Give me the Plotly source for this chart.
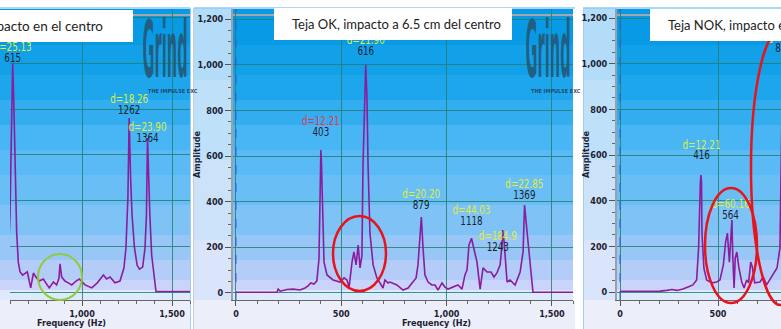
import plotly.graph_objects as go

W, H = 781, 329

# ---------------- data ----------------
# Panel 1 (cropped on the left)
p1_freq = [590, 600, 608, 615, 622, 630, 637, 646, 656, 670, 683, 696, 715, 730, 744, 763,
           785, 804, 818, 841, 859, 872, 878, 887, 905, 924, 943, 967, 985, 1017, 1054, 1085,
           1100, 1119, 1137, 1156, 1183, 1211, 1233, 1244, 1255, 1262, 1270, 1278, 1291, 1306,
           1319, 1337, 1350, 1358, 1364, 1370, 1377, 1387, 1398, 1411, 1600]
p1_amp = [150, 337, 700, 1000, 800, 450, 263, 131, 88, 74, 83, 88, 18, 83, 66, 48,
          57, 31, 18, 44, 31, 60, 123, 66, 48, 40, 31, 48, 57, 31, 18, 40,
          57, 74, 57, 66, 40, 48, 105, 192, 411, 761, 500, 337, 197, 118,
          100, 109, 192, 337, 674, 500, 337, 162, 88, 2, 2]
p1_peaks = [615, 1262, 1364]
p1_peak_text = ["615", "1262", "1364"]
p1_damp_text = ["d=25.13", "d=18.26", "d=23.90"]
p1_num_y = [1020, 792, 670]
p1_damp_y = [1068, 840, 718]

# Panel 2: Teja OK, impacto a 6.5 cm del centro
p2_freq = [0, 195, 200, 210, 242, 271, 304, 328, 342, 355, 370, 384, 394, 401, 403, 406, 413,
           418, 432, 461, 494, 513, 527, 537, 551, 560, 570, 580, 589, 598, 603, 610, 616, 622,
           627, 636, 651, 669, 683, 698, 707, 722, 731, 764, 793, 817, 836, 855, 864, 874, 880,
           888, 897, 912, 930, 945, 959, 978, 992, 1007, 1030, 1054, 1073, 1087, 1097, 1106,
           1118, 1130, 1144, 1159, 1173, 1192, 1211, 1225, 1239, 1254, 1263, 1266, 1273, 1287,
           1301, 1325, 1349, 1363, 1370, 1382, 1396, 1410, 1600]
p2_amp = [3, 3, 17, 8, 15, 17, 13, 22, 31, 44, 39, 53, 150, 560, 626, 560, 267,
          135, 79, 57, 48, 66, 57, 26, 136, 180, 123, 210, 110, 166, 560, 850, 1000, 850,
          560, 263, 123, 66, 44, 22, 57, 44, 48, 35, 13, 22, 44, 66, 123, 267, 333,
          197, 79, 48, 35, 35, 13, 44, 26, 17, 26, 35, 17, 79, 101, 210,
          240, 197, 136, 17, 110, 92, 92, 70, 88, 123, 210, 276, 223, 48,
          57, 35, 92, 180, 385, 267, 136, 3, 3]
p2_peaks = [403, 616, 879, 1118, 1243, 1369]
p2_peak_text = ["403", "616", "879", "1118", "1243", "1369"]
p2_damp_text = ["d=12.21", "d=21.90", "d=20.20", "d=44.03", "d=184.9", "d=22.85"]
p2_num_y = [701, 1056, 381, 311, 197, 425]
p2_damp_y = [749, 1104, 429, 359, 245, 473]

# Panel 3: Teja NOK, impacto en el centro (cropped on the right)
p3_freq = [0, 194, 204, 240, 265, 291, 321, 347, 372, 391, 401, 410, 413, 416, 418, 428, 442,
           469, 493, 510, 527, 539, 548, 558, 565, 571, 575, 582, 588, 596, 606, 621, 633, 646,
           656, 667, 675, 687, 714, 731, 748, 774, 801, 816, 830, 850]
p3_amp = [3, 3, 4, 7, 11, 7, 13, 22, 31, 53, 193, 480, 512, 480, 263, 105, 53,
          40, 44, 53, 118, 219, 258, 131, 263, 315, 166, 18, 149, 175, 110, 44, 18, 53,
          40, 131, 110, 40, 44, 66, 31, 66, 105, 193, 1000, 600]
p3_peaks = [416, 564, 806, 786]
p3_peak_text = ["416", "564", "8", ""]
p3_damp_text = ["d=12.21", "d=60.16", "", "d="]
p3_num_y = [596, 333, 1064, 1064]
p3_damp_y = [640, 381, 1104, 1104]

titles = ["Teja OK, impacto en el centro",
          "Teja OK, impacto a 6.5 cm del centro",
          "Teja NOK, impacto en el centro"]

# ---------------- helpers ----------------
def px(x):
    return x / W


def py(y):
    return 1 - y / H


LINE = "#8c1c9e"
YEL = "#dcef3a"
RED = "#e8364c"
DARK = "#18222e"
NARROW = "Liberation Sans Narrow, DejaVu Sans Condensed, Arial Narrow, sans-serif"
GRID = "rgba(34,128,112,0.85)"

fig = go.Figure()

panels = [
    (p1_freq, p1_amp, p1_peaks, p1_peak_text, p1_damp_text, p1_num_y, p1_damp_y,
     [YEL, YEL, YEL], "x", "y"),
    (p2_freq, p2_amp, p2_peaks, p2_peak_text, p2_damp_text, p2_num_y, p2_damp_y,
     [RED, YEL, YEL, YEL, YEL, YEL], "x2", "y2"),
    (p3_freq, p3_amp, p3_peaks, p3_peak_text, p3_damp_text, p3_num_y, p3_damp_y,
     [YEL, YEL, YEL, YEL], "x3", "y3"),
]

for (fr, am, pk, ptxt, dtxt, ny, dy, dcol, xa, ya) in panels:
    fig.add_trace(go.Scatter(x=fr, y=am, mode="lines", xaxis=xa, yaxis=ya,
                             line=dict(color=LINE, width=1.6), hoverinfo="skip",
                             showlegend=False))
    fig.add_trace(go.Scatter(x=list(pk) + list(pk), y=list(dy) + list(ny),
                             text=list(dtxt) + list(ptxt), mode="text",
                             xaxis=xa, yaxis=ya, cliponaxis=False, showlegend=False,
                             hoverinfo="skip",
                             textfont=dict(family=NARROW, size=12.5,
                                           color=list(dcol) + [DARK] * len(ptxt))))

tickfont = dict(family=NARROW, size=9, color="#1d2130", weight="bold")


def xaxis(dom, rng, show_labels=True):
    return dict(domain=dom, range=rng, dtick=500, tick0=0, tickformat=",d",
                showgrid=True, gridcolor=GRID, gridwidth=1, zeroline=False,
                ticks="outside", ticklen=5, tickcolor="#555", tickwidth=1,
                minor=dict(dtick=100, ticklen=3, tickcolor="#666", ticks="outside", showgrid=False),
                showline=True, linecolor="#666", linewidth=1,
                showticklabels=show_labels, tickfont=tickfont, fixedrange=True)


def yaxis(anchor, rng, show=True):
    d = dict(domain=[py(300), py(9)], range=rng, dtick=200, tick0=0, tickformat=",d",
             showgrid=True, gridcolor=GRID, gridwidth=1, zeroline=False,
             anchor=anchor, fixedrange=True, tickfont=tickfont)
    if show:
        d.update(ticks="outside", ticklen=6, tickcolor="#555",
                 minor=dict(dtick=50, ticklen=3, tickcolor="#666", ticks="outside", showgrid=False),
                 showline=True, linecolor="#9aa0a8", linewidth=2, showticklabels=True)
    else:
        d.update(ticks="", showticklabels=False, showline=False)
    return d


fig.update_layout(
    width=W, height=H, margin=dict(l=0, r=0, t=0, b=0),
    paper_bgcolor="white", plot_bgcolor="rgba(0,0,0,0)",
    showlegend=False,
    xaxis=xaxis([px(10), px(190)], [600, 1600]),
    yaxis=yaxis("x", [-35, 1238.5], show=False),
    xaxis2=xaxis([px(233), px(573)], [-14.2, 1600]),
    yaxis2=yaxis("x2", [-30.7, 1244]),
    xaxis3=xaxis([px(617), 1.0], [-15.3, 821.4]),
    yaxis3=yaxis("x3", [-35, 1239.6]),
)
fig.layout.xaxis.anchor = "y"
fig.layout.xaxis2.anchor = "y2"
fig.layout.xaxis3.anchor = "y3"

shapes = []


def rect(x0, y0, x1, y1, color, layer="below"):
    shapes.append(dict(type="rect", xref="paper", yref="paper",
                       x0=px(x0), x1=px(x1), y0=py(y1), y1=py(y0),
                       fillcolor=color, line=dict(width=0), layer=layer))


def hline(x0, x1, y, color, width=1, layer="below"):
    shapes.append(dict(type="line", xref="paper", yref="paper",
                       x0=px(x0), x1=px(x1), y0=py(y), y1=py(y),
                       line=dict(color=color, width=width), layer=layer))


def vline(x, y0, y1, color, width=1, layer="below"):
    shapes.append(dict(type="line", xref="paper", yref="paper",
                       x0=px(x), x1=px(x), y0=py(y0), y1=py(y1),
                       line=dict(color=color, width=width), layer=layer))


bands = [(9, "rgb(8,154,228)"), (45, "rgb(18,160,232)"), (75, "rgb(30,166,236)"),
         (100, "rgb(50,174,240)"), (125, "rgb(72,182,244)"), (150, "rgb(90,186,245)"),
         (175, "rgb(106,190,246)"), (205, "rgb(126,194,246)"), (235, "rgb(152,198,246)"),
         (260, "rgb(180,204,248)"), (280, "rgb(202,212,250)"), (290, "rgb(220,234,252)"),
         (300, None)]
margin_bands = [(8, "rgb(178,220,247)"), (80, "rgb(190,224,248)"), (160, "rgb(204,226,249)"),
                (240, "rgb(218,228,250)"), (300, None)]

plot_spans = [(0, 190), (233, 573), (617, 781)]
margin_spans = [None, (194, 233), (583, 617)]
panel_spans = [(0, 190), (194, 575), (583, 781)]

for (a, b) in plot_spans:
    for i in range(len(bands) - 1):
        rect(a, bands[i][0], b, bands[i + 1][0], bands[i][1])
for m in margin_spans:
    if m is None:
        continue
    for i in range(len(margin_bands) - 1):
        rect(m[0], margin_bands[i][0], m[1], margin_bands[i + 1][0], margin_bands[i][1])
for (a, b) in panel_spans:
    rect(a, 300, b, 329, "rgb(236,238,250)")
    hline(a, b, 8, "rgb(140,205,242)", 1.5)
vline(190.5, 8, 329, "rgb(160,205,240)", 1)
vline(193.5, 8, 329, "rgb(200,205,215)", 1)
vline(583.5, 8, 329, "rgb(160,205,240)", 1)

# plot frame top line
for (a, b) in plot_spans:
    hline(a, b, 15, "rgb(160,168,178)", 2)

# dashed zero-frequency lines
for xa, ya in [("x2", "y2"), ("x3", "y3")]:
    shapes.append(dict(type="line", xref=xa, yref=ya + " domain",
                       x0=0, x1=0, y0=0, y1=1,
                       line=dict(color="#2f5fd8", width=1, dash="dash"), layer="above"))


def ellipse(x0, y0, x1, y1, color, width):
    shapes.append(dict(type="circle", xref="paper", yref="paper",
                       x0=px(x0), x1=px(x1), y0=py(y1), y1=py(y0),
                       line=dict(color=color, width=width), layer="above"))


ellipse(38, 254, 82, 300, "#8fcc3c", 2)
ellipse(333, 216, 386, 291, "#e8131c", 2.5)
ellipse(705, 188, 757, 303, "#e8131c", 2.5)
ellipse(751, 30, 810, 305, "#e8131c", 2.5)

# title boxes
rect(-5, 10, 133, 42, "white", layer="above")
rect(274, 8, 512, 40, "white", layer="above")
rect(650, 9, 790, 41, "white", layer="above")

fig.update_layout(shapes=shapes)

ann = []
tfont = dict(family="Lato, Open Sans, sans-serif", size=13, color="#222222")
ann.append(dict(text=titles[0], x=px(105), y=py(26), xref="paper", yref="paper",
                xanchor="right", yanchor="middle", showarrow=False,
                font=dict(family="Lato, Open Sans, sans-serif", size=13.5, color="#222222")))
ann.append(dict(text=titles[1], x=px(290), y=py(24), xref="paper", yref="paper",
                xanchor="left", yanchor="middle", showarrow=False, font=tfont))
ann.append(dict(text=titles[2], x=px(666), y=py(25), xref="paper", yref="paper",
                xanchor="left", yanchor="middle", showarrow=False, font=tfont))

# logo
for right in [190, 573]:
    ann.append(dict(text="Grind", x=px(right), y=py(50), xref="paper", yref="paper",
                    xanchor="right", yanchor="middle", showarrow=False,
                    font=dict(family="DejaVu Sans, sans-serif", size=78, weight="bold",
                              color="rgba(36,86,116,0.88)")))
    ann.append(dict(text="THE IMPULSE EXC", x=px(right - 44), y=py(91), xref="paper", yref="paper",
                    xanchor="left", yanchor="middle", showarrow=False,
                    font=dict(family=NARROW, size=5.5, weight="bold", color="rgba(30,60,90,0.9)")))

axfont = dict(family=NARROW, size=9, color="#1d2130", weight="bold")
ann.append(dict(text="Frequency (Hz)", x=px(71), y=py(323), xref="paper", yref="paper",
                xanchor="center", yanchor="middle", showarrow=False, font=axfont))
ann.append(dict(text="Frequency (Hz)", x=px(436), y=py(323), xref="paper", yref="paper",
                xanchor="center", yanchor="middle", showarrow=False, font=axfont))
ann.append(dict(text="Amplitude", x=px(197), y=py(155), xref="paper", yref="paper",
                xanchor="center", yanchor="middle", showarrow=False, textangle=-90, font=axfont))
ann.append(dict(text="Amplitude", x=px(586), y=py(155), xref="paper", yref="paper",
                xanchor="center", yanchor="middle", showarrow=False, textangle=-90, font=axfont))
fig.update_layout(annotations=ann)

post = """
document.documentElement.style.margin = '0';
document.documentElement.style.padding = '0';
document.body.style.margin = '0';
document.body.style.padding = '0';
document.body.style.overflow = 'hidden';
var gd = document.getElementById('{plot_id}');
function squashEl(t, k, anchorRight){
  var b = t.getBBox();
  if(!b.width) return;
  var cx = anchorRight ? (b.x + b.width) : (b.x + b.width / 2);
  t.setAttribute('transform', 'translate(' + cx + ',0) scale(' + k + ',1) translate(' + (-cx) + ',0)');
}
function squash(){
  gd.querySelectorAll('text.annotation-text').forEach(function(t){
    if(t.textContent === 'Grind'){
      var b = t.getBBox();
      if(!b.width) return;
      squashEl(t, 45 / b.width, true);
    }
  });
  gd.querySelectorAll('g.textpoint text').forEach(function(t){
    squashEl(t, 0.78, false);
  });
}
squash();
setTimeout(squash, 50);
setTimeout(squash, 400);
if (gd.on) { gd.on('plotly_afterplot', squash); }
"""

fig.write_html("out.html", post_script=post, config={"displayModeBar": False})
